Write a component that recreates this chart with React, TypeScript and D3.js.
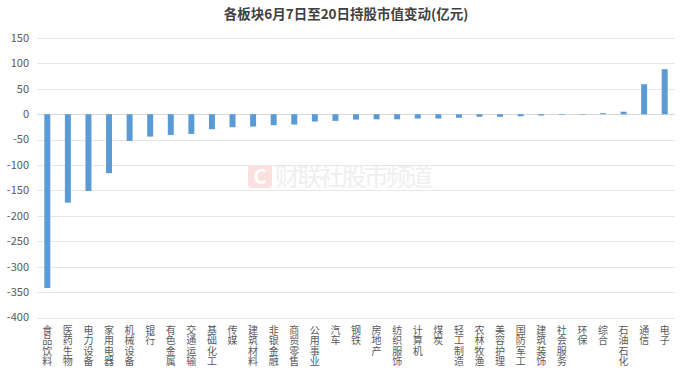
import { useEffect, useRef } from 'react';
import * as d3 from 'd3';

const categories = [
  '食品饮料', '医药生物', '电力设备', '家用电器', '机械设备', '银行', '有色金属', '交通运输',
  '基础化工', '传媒', '建筑材料', '非银金融', '商贸零售', '公用事业', '汽车', '钢铁',
  '房地产', '纺织服饰', '计算机', '煤炭', '轻工制造', '农林牧渔', '美容护理', '国防军工',
  '建筑装饰', '社会服务', '环保', '综合', '石油石化', '通信', '电子',
];

const values = [
  -342, -174, -151, -116, -52.5, -44, -41, -38.7,
  -29.5, -25.6, -24.3, -21.6, -20.3, -14.4, -13.1, -10.5,
  -10, -10, -8.5, -8.5, -7, -5, -5, -4,
  -2.6, -1.3, -1, 2, 5, 59, 88.6,
];

const yTicks = [150, 100, 50, 0, -50, -100, -150, -200, -250, -300, -350, -400];

const title = '各板块6月7日至20日持股市值变动(亿元)';
const watermark = '财联社股市频道';

const W = 692;
const H = 373;
const FONT = '"Noto Sans CJK SC", "Noto Sans", sans-serif';

export default function App() {
  const svgRef = useRef<SVGSVGElement>(null);

  useEffect(() => {
    if (!svgRef.current) return;
    const svg = d3.select(svgRef.current);
    svg.selectAll('*').remove();

    const margin = { top: 38, right: 17, bottom: 55.5, left: 37 };

    const x = d3
      .scaleBand()
      .domain(categories)
      .range([margin.left, W - margin.right])
      .paddingInner(0.71)
      .paddingOuter(0.355);

    const y = d3
      .scaleLinear()
      .domain([-400, 150])
      .range([H - margin.bottom, margin.top]);

    // Title
    svg
      .append('text')
      .attr('x', W / 2)
      .attr('y', 19)
      .attr('text-anchor', 'middle')
      .attr('font-family', FONT)
      .attr('font-size', 13.5)
      .attr('font-weight', 'bold')
      .attr('fill', '#404040')
      .text(title);

    // Grid lines
    svg
      .append('g')
      .selectAll('line')
      .data(yTicks)
      .enter()
      .append('line')
      .attr('x1', margin.left)
      .attr('x2', W - margin.right)
      .attr('y1', (d) => Math.round(y(d)) + 0.5)
      .attr('y2', (d) => Math.round(y(d)) + 0.5)
      .attr('stroke', (d) => (d === 0 ? '#d9d9d9' : '#e6e6e6'))
      .attr('stroke-width', 1);

    // Y labels
    svg
      .append('g')
      .selectAll('text')
      .data(yTicks)
      .enter()
      .append('text')
      .attr('x', 29)
      .attr('y', (d) => y(d))
      .attr('dy', '0.35em')
      .attr('text-anchor', 'end')
      .attr('font-family', FONT)
      .attr('font-size', 11)
      .attr('fill', '#595959')
      .text((d) => d);

    // Watermark
    const wm = svg.append('g');
    wm.append('rect')
      .attr('x', 248)
      .attr('y', 165)
      .attr('width', 24)
      .attr('height', 23)
      .attr('rx', 4)
      .attr('fill', '#fbe0e0');
    wm.append('text')
      .attr('x', 260)
      .attr('y', 176.5)
      .attr('dy', '0.36em')
      .attr('text-anchor', 'middle')
      .attr('font-family', FONT)
      .attr('font-size', 20)
      .attr('font-weight', 'bold')
      .attr('fill', '#ffffff')
      .text('C');
    wm.append('text')
      .attr('x', 275)
      .attr('y', 176.5)
      .attr('dy', '0.36em')
      .attr('font-family', FONT)
      .attr('font-size', 25)
      .attr('textLength', 158)
      .attr('fill', '#efefef')
      .text(watermark);

    // Bars
    svg
      .append('g')
      .selectAll('rect')
      .data(values)
      .enter()
      .append('rect')
      .attr('x', (_d, i) => x(categories[i]) || 0)
      .attr('y', (d) => y(Math.max(0, d)))
      .attr('width', x.bandwidth())
      .attr('height', (d) => Math.abs(y(d) - y(0)))
      .attr('fill', '#5b9bd5');

    // X labels, one character per line
    const labels = svg
      .append('g')
      .selectAll('text')
      .data(categories)
      .enter()
      .append('text')
      .attr('text-anchor', 'middle')
      .attr('font-family', FONT)
      .attr('font-size', 10)
      .attr('fill', '#595959');

    labels.each(function (d) {
      const t = d3.select(this);
      const cx = (x(d) || 0) + x.bandwidth() / 2;
      Array.from(d).forEach((ch, k) => {
        t.append('tspan')
          .attr('x', cx)
          .attr('y', 334 + k * 10.3)
          .text(ch);
      });
    });
  }, []);

  return (
    <div style={{ position: 'absolute', left: 0, top: 0, width: W, height: H, background: '#fff' }}>
      <svg ref={svgRef} width={W} height={H} />
    </div>
  );
}
